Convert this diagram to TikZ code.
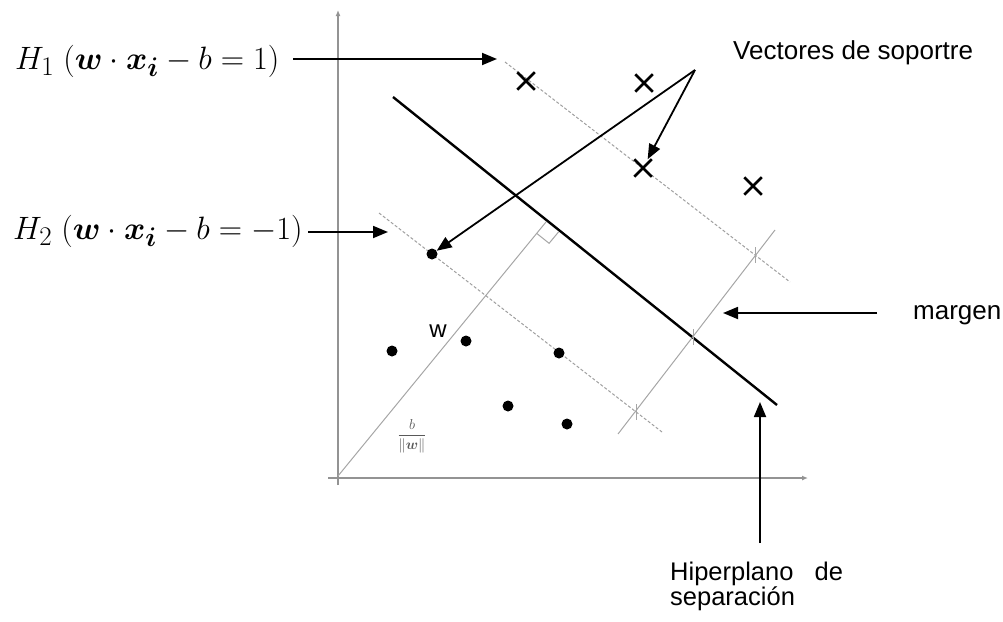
\documentclass[tikz,border=0pt]{standalone}
\usepackage{amsmath}
\usepackage{bm}
\usepackage{graphicx}
\usepackage{fontspec}
\setmainfont{Liberation Sans}
\usetikzlibrary{arrows.meta,shapes.misc,calc}
\begin{document}
\begin{tikzpicture}[x=1pt,y=-1pt,
  arr/.style={line width=1.8pt,-{Triangle[length=15pt,width=12pt]}},
  axisline/.style={draw=gray!85,line width=1.2pt},
  hdash/.style={draw=gray!75,line width=1pt,dash pattern=on 3pt off 2pt},
  thin/.style={draw=gray!70,line width=1pt},
  dot/.style={circle,fill=black,inner sep=0pt,minimum size=11pt},
  xmark/.style={cross out,draw=black,line width=2.5pt,inner sep=0pt,minimum size=15pt},
  lbl/.style={font=\fontsize{26}{27}\selectfont,text=black,inner sep=0pt},
  mlbl/.style={font=\fontsize{24.88}{28}\selectfont,text=black,inner sep=0pt}]
\useasboundingbox (0,0) rectangle (1003,621);

% axes
\draw[axisline,-{Latex[length=6pt,width=5pt]}] (338,485) -- (338,10);
\draw[axisline,-{Latex[length=6pt,width=5pt]}] (328,478) -- (808,478);

% hyperplanes
\coordinate (h1a) at (505,62);  \coordinate (h1b) at (790,282);
\coordinate (h2a) at (379,213); \coordinate (h2b) at (662,432);
\coordinate (hpa) at (393,97);  \coordinate (hpb) at (777,405);
\draw[hdash] (h1a) -- (h1b);
\draw[hdash] (h2a) -- (h2b);
\draw[line width=2.4pt] (hpa) -- (hpb);

% normal vector w
\coordinate (o) at (338,476);
\coordinate (f) at (546,222);
\draw[thin] (o) -- (f);
\draw[thin] ($(f)+(-9.4,11.3)$) -- ++(12.5,10) -- ++(9.4,-11.3);

% margin line
\coordinate (ma) at (618,434); \coordinate (mb) at (775,230);
\draw[thin] (ma) -- (mb);
\foreach \p in {(636,412),(693,337),(755,255)}
  \draw[thin] \p ++(0,-8) -- ++(0,16);

% points
\node[dot] (d1) at (432,254) {};
\node[dot] (d2) at (392,351) {};
\node[dot] (d3) at (466,341) {};
\node[dot] (d4) at (559,353) {};
\node[dot] (d5) at (508,406) {};
\node[dot] (d6) at (567,424) {};
\node[xmark] (x1) at (526,81) {};
\node[xmark] (x2) at (644,83) {};
\node[xmark] (x3) at (643,168) {};
\node[xmark] (x4) at (753,186) {};

% labels
\node[mlbl,anchor=west] (lh1) at (15,61) {\scalebox{1.3}{$H_1\ (\bm{w}\cdot\bm{x}_{\bm{i}}-b=1)$}};
\node[mlbl,anchor=west] (lh2) at (13,231) {\scalebox{1.3}{$H_2\ (\bm{w}\cdot\bm{x}_{\bm{i}}-b=-1)$}};
\node[lbl,anchor=west] (vs) at (733,53) {Vectores de soportre};
\node[lbl,anchor=west] (mg) at (913,315) {margen};
\node[lbl,anchor=north west,align=left,font=\fontsize{25.5}{25}\selectfont] (hp) at (670,562) {Hiperplano\hspace{0.55em} de\\separación};
\node[font=\fontsize{24}{24}\selectfont,inner sep=0pt] (wl) at (438,331) {w};
\node[font=\fontsize{14}{16}\selectfont,text=gray!70!black,inner sep=0pt] (bw) at (412,436) {$\displaystyle\frac{b}{\|\bm{w}\|}$};

% arrows
\coordinate (s1) at (293,59);
\coordinate (t1) at (497,59);
\coordinate (s2) at (308,232);
\coordinate (t2) at (388,232);
\coordinate (vsf) at (695,70);
\coordinate (s3) at (877,313);
\coordinate (t3) at (723,313);
\coordinate (t4) at (760,402);
\coordinate (hps) at (760,543);
\draw[arr] (s1) -- (t1);
\draw[arr] (s2) -- (t2);
\draw[arr] (vsf) -- (d1);
\draw[arr] (vsf) -- (x3);
\draw[arr] (s3) -- (t3);
\draw[arr] (hps) -- (t4);
\end{tikzpicture}
\end{document}
